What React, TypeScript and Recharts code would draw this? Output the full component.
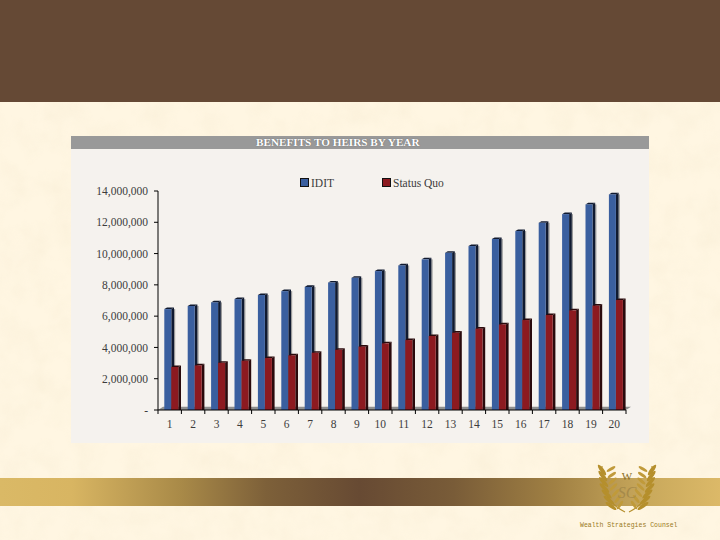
import React from "react";
import { BarChart, Bar, XAxis, YAxis, Legend, ReferenceArea } from "recharts";

const years = ["1","2","3","4","5","6","7","8","9","10","11","12","13","14","15","16","17","18","19","20"];
const idit = [6450000,6650000,6880000,7090000,7350000,7600000,7870000,8150000,8450000,8880000,9240000,9630000,10050000,10480000,10930000,11440000,11970000,12520000,13140000,13780000];
const statusQuo = [2750000,2850000,3020000,3150000,3320000,3490000,3660000,3850000,4050000,4260000,4470000,4730000,4940000,5200000,5470000,5750000,6070000,6370000,6670000,7030000];
const yTicks = [0,2000000,4000000,6000000,8000000,10000000,12000000,14000000];
const data = years.map((year, i) => ({ year, idit: idit[i], statusQuo: statusQuo[i] }));

const BLUE = "#3a5f9f";
const RED = "#8c1a20";
const SERIF = "'Liberation Serif', serif";
const TEXT = "#3c3c3c";
const PLOT_LEFT = 158;
const PLOT_RIGHT = 626;
const DX = 2.7;
const DY = 1.6;

// fake 3D column, like the excel one in the slide
function Column3D(props: any) {
  const { x, y, width, height, fill } = props;
  const dark = fill === BLUE ? "#101a30" : "#2a0a0c";
  const left = x + 1.3;
  const right = left + width;
  const bottom = y + height;
  return (
    <g>
      {fill === BLUE && <rect x={right + DX} y={y} width={1.2} height={height} fill="#9a9a9a" />}
      <polygon points={`${right},${y} ${right + DX},${y - DY} ${right + DX},${bottom} ${right},${bottom}`} fill={dark} />
      <polygon points={`${left},${y} ${left + DX},${y - DY} ${right + DX},${y - DY} ${right},${y}`} fill={dark} />
      <rect x={left} y={y} width={width} height={height} fill={fill} />
    </g>
  );
}

function Floor(props: any) {
  const { x, y, width, height } = props;
  const bottom = y + height;
  return (
    <polygon
      points={`${x},${bottom} ${x + 5},${y} ${x + width + 5},${y} ${x + width},${bottom}`}
      fill="#8f8f8f"
    />
  );
}

function YearTick(props: any) {
  const { x, y, index, payload } = props;
  const half = (PLOT_RIGHT - PLOT_LEFT) / years.length / 2;
  return (
    <g>
      {index === 0 && <line x1={x - half} x2={x - half} y1={y} y2={y + 4} stroke="#000" />}
      <line x1={x + half} x2={x + half} y1={y} y2={y + 4} stroke="#000" />
      <text x={x} y={y + 18} textAnchor="middle" fontSize={11.5} fontFamily={SERIF} fill={TEXT}>
        {payload.value}
      </text>
    </g>
  );
}

function LegendRow({ payload }: any) {
  return (
    <div style={{ position: "relative", height: 12, width: 200, fontFamily: SERIF, fontSize: 11.5, color: TEXT }}>
      {(payload || []).map((p: any, i: number) => (
        <div key={p.value} style={{ position: "absolute", left: i * 82, top: 0, whiteSpace: "nowrap", lineHeight: "12px" }}>
          <span style={{ display: "inline-block", width: 7, height: 7, background: p.color, border: "0.5px solid #111", marginRight: 2 }} />
          {p.value}
        </div>
      ))}
    </div>
  );
}

const leaves = [0, 1, 2, 3, 4, 5, 6];

function Branch({ flip }: { flip: boolean }) {
  return (
    <g transform={flip ? "translate(627,0) scale(-1,1) translate(-627,0)" : undefined}>
      <path d="M625 512 Q600 500 602 466" stroke="#b58f2c" strokeWidth={1.2} fill="none" />
      {leaves.map((i) => {
        const py = 507 - i * 6;
        const px = 616 - i * 2.2 + (i > 3 ? (i - 3) * 1.4 : 0);
        return (
          <g key={i}>
            <ellipse cx={px - 5} cy={py - 1} rx={6.5} ry={1.9} fill="#b58f2c" transform={`rotate(${35 + i * 3} ${px - 5} ${py - 1})`} />
            <ellipse cx={px + 4} cy={py - 2} rx={5} ry={1.5} fill="#c09a3a" transform={`rotate(${-55 + i * 4} ${px + 4} ${py - 2})`} />
          </g>
        );
      })}
    </g>
  );
}

function Backdrop() {
  return (
    <div style={{ position: "absolute", left: 0, top: 0, width: 720, height: 540, background: "#fff6e2", overflow: "hidden" }}>
      <svg width={720} height={540} style={{ position: "absolute", left: 0, top: 0 }}>
        <filter id="paper" x="0" y="0" width="100%" height="100%">
          <feTurbulence type="fractalNoise" baseFrequency="0.04" numOctaves={3} seed={4} />
          <feColorMatrix values="0 0 0 0 0.93  0 0 0 0 0.84  0 0 0 0 0.66  1.6 0 0 0 -0.6" />
        </filter>
        <rect width={720} height={540} filter="url(#paper)" opacity={0.5} />
      </svg>
      <div style={{ position: "absolute", left: 0, top: 0, width: 720, height: 102, background: "#654935" }} />
      <div
        style={{
          position: "absolute", left: 0, top: 478, width: 720, height: 28,
          background: "linear-gradient(90deg,#dab966 0%,#d8b562 10%,#a98a48 25%,#7d6039 37%,#674a33 50%,#795c38 63%,#a08043 77%,#c9a95c 90%,#dcb968 100%)",
        }}
      />
      <div style={{ position: "absolute", left: 71, top: 136, width: 578, height: 307, background: "#f5f2ee" }} />
      <div style={{ position: "absolute", left: 71, top: 136, width: 578, height: 13, background: "#999999" }} />
      <div
        style={{
          position: "absolute", left: 256, top: 136, whiteSpace: "nowrap",
          color: "#fff", fontFamily: SERIF, fontWeight: "bold", fontSize: 11.2, lineHeight: "13px",
          textShadow: "0 0 1px #555",
        }}
      >
        BENEFITS TO HEIRS BY YEAR
      </div>
      <svg width={720} height={540} style={{ position: "absolute", left: 0, top: 0 }}>
        <Branch flip={false} />
        <Branch flip={true} />
        <text x={627} y={480} textAnchor="middle" fontFamily={SERIF} fontSize={11} fill="#8a6d24">W</text>
        <text x={627} y={498} textAnchor="middle" fontFamily={SERIF} fontStyle="italic" fontSize={16} fill="#a68a4a">SC</text>
      </svg>
      <div
        style={{
          position: "absolute", left: 580, top: 521, whiteSpace: "nowrap",
          fontFamily: "'Liberation Mono', monospace", fontSize: 6.5, lineHeight: "10px", color: "#9a7a1c",
        }}
      >
        Wealth Strategies Counsel
      </div>
    </div>
  );
}

export default function App() {
  return (
    <div style={{ position: "absolute", left: 0, top: 0, width: 720, height: 540 }}>
      <Backdrop />
      <div style={{ position: "absolute", left: 0, top: 0 }}>
        <BarChart
          width={720}
          height={540}
          data={data}
          barSize={7}
          barGap={0}
          margin={{ top: 191, right: 720 - PLOT_RIGHT, bottom: 100, left: 78 }}
        >
          <ReferenceArea y1={0} y2={210000} shape={<Floor />} ifOverflow="visible" />
          <XAxis
            dataKey="year"
            interval={0}
            tickLine={false}
            tickSize={0}
            tickMargin={0}
            height={30}
            tick={<YearTick />}
            axisLine={{ stroke: "#000", strokeWidth: 1 }}
          />
          <YAxis
            width={80}
            domain={[0, 14000000]}
            ticks={yTicks}
            interval={0}
            tickSize={4}
            tickMargin={6}
            tick={{ fontSize: 11.5, fontFamily: SERIF, fill: TEXT }}
            tickLine={{ stroke: "#000" }}
            axisLine={{ stroke: "#000", strokeWidth: 1 }}
            tickFormatter={(v: number) => (v === 0 ? "-" : v.toLocaleString("en-US"))}
          />
          <Legend
            layout="horizontal"
            align="center"
            verticalAlign="middle"
            wrapperStyle={{ left: 300, top: 177, width: 200 }}
            content={<LegendRow />}
          />
          <Bar dataKey="idit" name="IDIT" fill={BLUE} shape={<Column3D />} isAnimationActive={false} />
          <Bar dataKey="statusQuo" name="Status Quo" fill={RED} shape={<Column3D />} isAnimationActive={false} />
        </BarChart>
      </div>
    </div>
  );
}
